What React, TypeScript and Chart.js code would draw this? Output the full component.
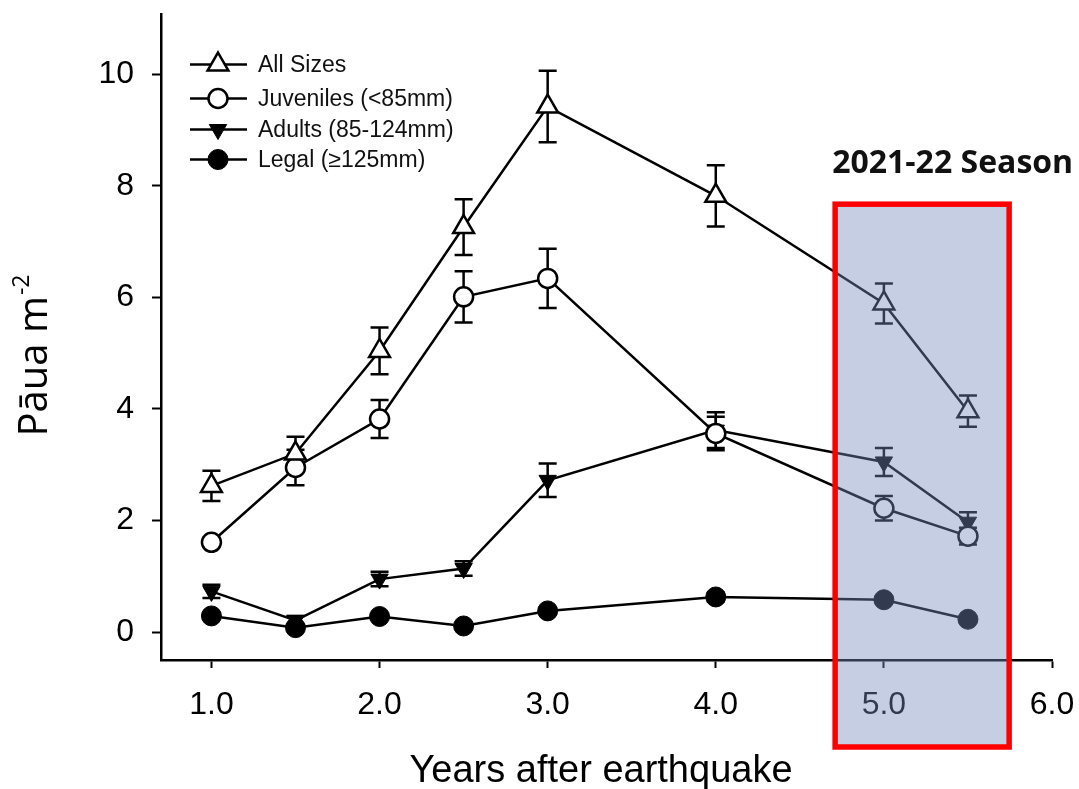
import React, { useEffect, useRef } from 'react';
import { Chart, registerables } from 'chart.js';

Chart.register(...registerables);

// Survey years after the earthquake
const years = [1.0, 1.5, 2.0, 2.5, 3.0, 4.0, 5.0, 5.5];

// Mean density (pāua per m²) and standard error for each size class
const allSizes = [2.62, 3.2, 5.04, 7.26, 9.42, 7.82, 5.89, 3.96];
const allSizesSE = [0.27, 0.3, 0.42, 0.5, 0.64, 0.55, 0.36, 0.28];
const juveniles = [1.61, 2.95, 3.82, 6.01, 6.34, 3.56, 2.22, 1.72];
const juvenilesSE = [0.08, 0.32, 0.34, 0.46, 0.53, 0.3, 0.22, 0.15];
const adults = [0.73, 0.21, 0.95, 1.14, 2.72, 3.62, 3.05, 1.97];
const adultsSE = [0.12, 0.08, 0.13, 0.13, 0.3, 0.32, 0.25, 0.18];
const legal = [0.29, 0.08, 0.28, 0.11, 0.38, 0.63, 0.58, 0.23];
const legalSE = [0.05, 0.04, 0.05, 0.04, 0.05, 0.08, 0.06, 0.05];

const seriesNames = ['All Sizes', 'Juveniles (<85mm)', 'Adults (85-124mm)', 'Legal (≥125mm)'];

// Axis ticks
const xTicks = [1, 2, 3, 4, 5, 6];
const yTicks = [0, 2, 4, 6, 8, 10];

// Highlighted season (in years after earthquake)
const seasonLabel = '2021-22 Season';
const seasonRange = [4.71, 5.745];
const seasonTop = 7.67;

const xTitle = 'Years after earthquake';
const yTitleMain = 'Pāua m';
const yTitleSup = '-2';

const SANS = '"Liberation Sans", Arial, sans-serif';

type Marker = { style: 'triangle' | 'circle'; radius: number; rotation: number; fill: string; border: number };

const markers: Marker[] = [
  { style: 'triangle', radius: 12, rotation: 0, fill: '#ffffff', border: 2.5 },
  { style: 'circle', radius: 9.5, rotation: 0, fill: '#ffffff', border: 2.5 },
  { style: 'triangle', radius: 10, rotation: 180, fill: '#000000', border: 1 },
  { style: 'circle', radius: 10, rotation: 0, fill: '#000000', border: 1 },
];

const seriesValues = [allSizes, juveniles, adults, legal];
const seriesErrors = [allSizesSE, juvenilesSE, adultsSE, legalSE];

function drawMarker(ctx: CanvasRenderingContext2D, m: Marker, x: number, y: number) {
  ctx.save();
  ctx.beginPath();
  if (m.style === 'circle') {
    ctx.arc(x, y, m.radius, 0, Math.PI * 2);
  } else {
    let rad = (m.rotation * Math.PI) / 180;
    ctx.moveTo(x + Math.sin(rad) * m.radius, y - Math.cos(rad) * m.radius);
    rad += (2 * Math.PI) / 3;
    ctx.lineTo(x + Math.sin(rad) * m.radius, y - Math.cos(rad) * m.radius);
    rad += (2 * Math.PI) / 3;
    ctx.lineTo(x + Math.sin(rad) * m.radius, y - Math.cos(rad) * m.radius);
    ctx.closePath();
  }
  ctx.fillStyle = m.fill;
  ctx.fill();
  ctx.lineWidth = m.border;
  ctx.strokeStyle = '#000';
  ctx.stroke();
  ctx.restore();
}

const errorBarPlugin = {
  id: 'errorBars',
  beforeDatasetsDraw(chart: any) {
    const { ctx } = chart;
    const yScale = chart.scales.y;
    const cap = 9;
    ctx.save();
    ctx.strokeStyle = '#000';
    ctx.lineWidth = 2.5;
    seriesErrors.forEach((errs, di) => {
      const meta = chart.getDatasetMeta(di);
      meta.data.forEach((pt: any, i: number) => {
        const v = seriesValues[di][i];
        const e = errs[i];
        const x = pt.x;
        const yTop = yScale.getPixelForValue(v + e);
        const yBot = yScale.getPixelForValue(v - e);
        ctx.beginPath();
        ctx.moveTo(x, yTop);
        ctx.lineTo(x, yBot);
        ctx.moveTo(x - cap, yTop);
        ctx.lineTo(x + cap, yTop);
        ctx.moveTo(x - cap, yBot);
        ctx.lineTo(x + cap, yBot);
        ctx.stroke();
      });
    });
    ctx.restore();
  },
};

const legendPlugin = {
  id: 'customLegend',
  afterDatasetsDraw(chart: any) {
    const { ctx, chartArea } = chart;
    const rows = [50, 84, 115, 145];
    const lineStart = chartArea.left + 29;
    const lineEnd = chartArea.left + 86;
    const markerX = chartArea.left + 57;
    const textX = chartArea.left + 97;
    ctx.save();
    seriesNames.forEach((name, i) => {
      const y = chartArea.top + rows[i];
      ctx.strokeStyle = '#000';
      ctx.lineWidth = 2.5;
      ctx.beginPath();
      ctx.moveTo(lineStart, y);
      ctx.lineTo(lineEnd, y);
      ctx.stroke();
      drawMarker(ctx, markers[i], markerX, y);
      ctx.fillStyle = '#111';
      ctx.font = `23px ${SANS}`;
      ctx.textAlign = 'left';
      ctx.textBaseline = 'middle';
      ctx.fillText(name, textX, y + 1);
    });
    ctx.restore();
  },
};

const annotationPlugin = {
  id: 'titlesAndSeason',
  afterDraw(chart: any) {
    const { ctx, chartArea } = chart;
    const xScale = chart.scales.x;
    const yScale = chart.scales.y;

    ctx.save();
    // x-axis title
    ctx.fillStyle = '#000';
    ctx.font = `38px ${SANS}`;
    ctx.textAlign = 'center';
    ctx.textBaseline = 'alphabetic';
    ctx.fillText(xTitle, 601, 782);

    // y-axis title with superscript
    ctx.save();
    ctx.translate(47, 356);
    ctx.rotate(-Math.PI / 2);
    ctx.font = '40px "Open Sans", sans-serif';
    const w1 = ctx.measureText(yTitleMain).width;
    ctx.font = '23px "Open Sans", sans-serif';
    const w2 = ctx.measureText(yTitleSup).width;
    const start = -(w1 + w2) / 2;
    ctx.textAlign = 'left';
    ctx.font = '40px "Open Sans", sans-serif';
    ctx.fillText(yTitleMain, start, 0);
    ctx.font = '23px "Open Sans", sans-serif';
    ctx.fillText(yTitleSup, start + w1 + 1, -18);
    ctx.restore();

    // Highlighted season box
    const x0 = xScale.getPixelForValue(seasonRange[0]);
    const x1 = xScale.getPixelForValue(seasonRange[1]);
    const y0 = yScale.getPixelForValue(seasonTop);
    const y1 = chartArea.bottom + 87;
    ctx.fillStyle = 'rgba(118,138,190,0.42)';
    ctx.fillRect(x0, y0, x1 - x0, y1 - y0);
    ctx.strokeStyle = '#ff0000';
    ctx.lineWidth = 5.5;
    ctx.strokeRect(x0, y0, x1 - x0, y1 - y0);

    ctx.fillStyle = '#111';
    ctx.font = 'bold 32px "Open Sans", sans-serif';
    ctx.textAlign = 'left';
    ctx.fillText(seasonLabel, x0 - 3, 173);
    ctx.restore();
  },
};

export default function App() {
  const ref = useRef<HTMLCanvasElement | null>(null);

  useEffect(() => {
    const canvas = ref.current;
    if (!canvas) return;
    Chart.defaults.font.family = SANS;
    const datasets = seriesValues.map((vals, i) => ({
      label: seriesNames[i],
      data: years.map((x, j) => ({ x, y: vals[j] })),
      borderColor: '#000',
      borderWidth: 2.5,
      tension: 0,
      fill: false,
      pointStyle: markers[i].style,
      pointRadius: markers[i].radius,
      pointRotation: markers[i].rotation,
      pointBackgroundColor: markers[i].fill,
      pointBorderColor: '#000',
      pointBorderWidth: markers[i].border,
      pointHoverRadius: markers[i].radius,
    }));

    const chart = new Chart(canvas, {
      type: 'line',
      data: { datasets },
      options: {
        animation: false,
        responsive: false,
        events: [],
        layout: { padding: { left: 0, right: 27, top: 13, bottom: 0 } },
        plugins: { legend: { display: false }, tooltip: { enabled: false } },
        scales: {
          x: {
            type: 'linear',
            min: 0.7,
            max: 6,
            afterBuildTicks: (s: any) => {
              s.ticks = xTicks.map((v) => ({ value: v }));
            },
            afterFit: (s: any) => {
              s.height = 129;
              s.paddingLeft = 0;
              s.paddingRight = 0;
            },
            ticks: {
              color: '#000',
              font: { size: 32 },
              padding: 18,
              maxRotation: 0,
              autoSkip: false,
              callback: (v: any) => Number(v).toFixed(1),
            },
            grid: { drawOnChartArea: false, drawTicks: true, tickLength: 8, tickWidth: 2, tickColor: '#000' },
            border: { display: true, color: '#000', width: 2.5 },
          },
          y: {
            type: 'linear',
            min: -0.5,
            max: 11.07,
            afterBuildTicks: (s: any) => {
              s.ticks = yTicks.map((v) => ({ value: v }));
            },
            afterFit: (s: any) => {
              s.width = 161;
              s.paddingTop = 0;
              s.paddingBottom = 0;
            },
            ticks: {
              color: '#000',
              font: { size: 32 },
              padding: 18,
              autoSkip: false,
              callback: (v: any) => String(v),
            },
            grid: { drawOnChartArea: false, drawTicks: true, tickLength: 9, tickWidth: 2, tickColor: '#000' },
            border: { display: true, color: '#000', width: 2.5 },
          },
        },
      },
      plugins: [errorBarPlugin, legendPlugin, annotationPlugin],
    });
    return () => chart.destroy();
  }, []);

  return (
    <div style={{ position: 'absolute', left: 0, top: 0, width: 1079, height: 789, background: '#fff' }}>
      <canvas ref={ref} width={1079} height={789} style={{ display: 'block', width: 1079, height: 789 }} />
    </div>
  );
}
